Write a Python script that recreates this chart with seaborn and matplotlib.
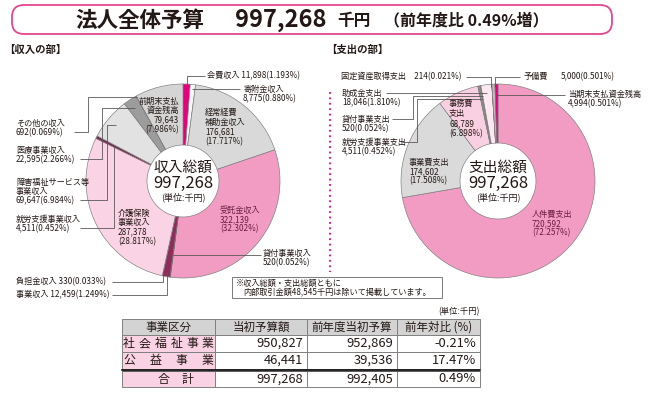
import numpy as np
import pandas as pd
import seaborn as sns
import matplotlib.pyplot as plt
from matplotlib.patches import FancyBboxPatch, Rectangle

sns.set_theme(style='white')
plt.rcParams['font.family'] = ['Noto Sans CJK JP', 'DejaVu Sans']

W, H = 650, 395

# 収入の部 (clockwise from 12 o'clock)
inc_names = ['会費収入', '寄附金収入', '経常経費補助金収入', '受託金収入', '貸付事業収入',
             '事業収入', '負担金収入', '介護保険事業収入', '就労支援事業収入',
             '障害福祉サービス等事業収入', '医療事業収入', 'その他の収入', '前期末支払資金残高']
inc_values = [11898, 8775, 176681, 322139, 520, 12459, 330, 287378, 4511, 69647, 22595, 692, 79643]
inc_pcts = [1.193, 0.880, 17.717, 32.302, 0.052, 1.249, 0.033, 28.817, 0.452, 6.984, 2.266, 0.069, 7.986]
inc_colors = ['#e4007f', '#f6f6f6', '#d9d9d9', '#f29cc3', '#d9739f', '#8e2d5b', '#8e2d5b',
              '#fad4e4', '#7b2a50', '#e2e2e2', '#9c9c9c', '#e2e2e2', '#d5d5d5']

# 支出の部 (clockwise from 12 o'clock)
exp_names = ['人件費支出', '事業費支出', '事務費支出', '就労支援事業支出', '貸付事業支出',
             '助成金支出', '固定資産取得支出', '予備費', '当期末支払資金残高']
exp_values = [720592, 174602, 68789, 4511, 520, 18046, 214, 5000, 4994]
exp_pcts = [72.257, 17.508, 6.898, 0.452, 0.052, 1.810, 0.021, 0.501, 0.501]
exp_colors = ['#f29cc3', '#dadada', '#f9d0e1', '#8c8c8c', '#8c8c8c', '#fde7f0', '#777777',
              '#bdbdbd', '#e4007f']

total = 997268
internal = 48545

# 事業区分別の表
tbl_header = ['事業区分', '当初予算額', '前年度当初予算', '前年対比 (%)']
tbl_rows = ['社会福祉事業', '公益事業', '合計']
budget_now = [950827, 46441, 997268]
budget_prev = [952869, 39536, 992405]
ratio = [-0.21, 17.47, 0.49]

TXT = '#231815'
LINE = '#595757'

fig = plt.figure(figsize=(6.5, 3.95), dpi=100)
ax = fig.add_axes([0, 0, 1, 1])


def txt(x, y, s, **kw):
    kw.setdefault('color', TXT)
    kw.setdefault('fontsize', 5.9)
    kw.setdefault('va', 'center')
    ax.text(x, H - y, s, **kw)


def lines(x, y, rows, step=9.5, **kw):
    for k, s in enumerate(rows):
        txt(x, y + k * step, s, **kw)


def path(pts):
    xs = [p[0] for p in pts]
    ys = [H - p[1] for p in pts]
    ax.plot(xs, ys, color=LINE, lw=0.6, solid_capstyle='butt')


def anchor(w, frac, cx, cy, r):
    a = np.deg2rad((w.theta1 + w.theta2) / 2)
    return cx + frac * r * np.cos(a), cy - frac * r * np.sin(a)


def ray_x(w, y, cx, cy):
    a = np.deg2rad((w.theta1 + w.theta2) / 2)
    t = (cy - y) / np.sin(a)
    return cx + t * np.cos(a)


def lab(v, p):
    return f'{v:,}({p:.3f}%)'


# ---- pies ----
R = 97
lcx, lcy = 183, 181
rcx, rcy = 498, 181
wp = dict(edgecolor='#7a7a7a', linewidth=0.45)
lw_, _ = ax.pie(inc_values, colors=inc_colors, startangle=90, counterclock=False,
                radius=R, center=(lcx, H - lcy), wedgeprops=dict(width=R - 36, **wp))
rw_, _ = ax.pie(exp_values, colors=exp_colors, startangle=90, counterclock=False,
                radius=R, center=(rcx, H - rcy), wedgeprops=dict(width=R - 38, **wp))
ax.set_xlim(0, W)
ax.set_ylim(0, H)
ax.axis('off')

L = {n: w for n, w in zip(inc_names, lw_)}
Rw = {n: w for n, w in zip(exp_names, rw_)}
iv = dict(zip(inc_names, zip(inc_values, inc_pcts)))
ev = dict(zip(exp_names, zip(exp_values, exp_pcts)))

# centers
for cx, head in [(lcx, '収入総額'), (rcx, '支出総額')]:
    txt(cx, 168, head, fontsize=10.6, ha='center')
    txt(cx, 183, f'{total:,}', fontsize=12, ha='center')
    txt(cx, 197, '(単位:千円)', fontsize=6.5, ha='center')

# ---- left labels ----
ax_, ay_ = anchor(L['会費収入'], 0.98, lcx, lcy, R)
path([(205, 76), (ax_, 76), (ax_, ay_)])
txt(207, 76, '会費収入 ' + lab(*iv['会費収入']))

ax_, ay_ = anchor(L['寄附金収入'], 0.95, lcx, lcy, R)
path([(240, 89), (ax_, 89), (ax_, ay_)])
lines(243, 89, ['寄附金収入', lab(*iv['寄附金収入'])], step=10)

v, p = iv['経常経費補助金収入']
lines(205, 113, ['経常経費', '補助金収入', f'{v:,}', f'({p:.3f}%)'])
v, p = iv['前期末支払資金残高']
lines(179, 101, ['前期末支払', '資金残高', f'{v:,}', f'({p:.3f}%)'], ha='right')
v, p = iv['受託金収入']
lines(220, 210, ['受託金収入', f'{v:,}', f'({p:.3f}%)'], color='#6b1d43')
v, p = iv['介護保険事業収入']
lines(118, 213, ['介護保険', '事業収入', f'{v:,}', f'({p:.3f}%)'])

x_ = ray_x(L['貸付事業収入'], 255, lcx, lcy)
path([(261, 255), (x_, 255)])
lines(263, 253, ['貸付事業収入', lab(*iv['貸付事業収入'])], step=10)

ax_, ay_ = anchor(L['その他の収入'], 0.99, lcx, lcy, R)
path([(74, 132), (88, 132), (88, ay_), (ax_, ay_)])
lines(16, 123, ['その他の収入', lab(*iv['その他の収入'])])

ax_, ay_ = anchor(L['医療事業収入'], 0.9, lcx, lcy, R)
path([(80, 159), (102, 159), (102, ay_), (ax_, ay_)])
lines(16, 150, ['医療事業収入', lab(*iv['医療事業収入'])])

ax_, ay_ = anchor(L['障害福祉サービス等事業収入'], 0.9, lcx, lcy, R)
path([(80, 200), (107, 200), (107, ay_), (ax_, ay_)])
lines(16, 182, ['障害福祉サービス等', '事業収入', lab(*iv['障害福祉サービス等事業収入'])])

ax_, ay_ = anchor(L['就労支援事業収入'], 0.8, lcx, lcy, R)
path([(80, 228), (ax_, 228), (ax_, ay_)])
lines(16, 219, ['就労支援事業収入', lab(*iv['就労支援事業収入'])])

ax_, ay_ = anchor(L['負担金収入'], 0.95, lcx, lcy, R)
path([(112, 282), (ax_, 282), (ax_, ay_)])
txt(16, 282, '負担金収入 ' + lab(*iv['負担金収入']))

ax_, ay_ = anchor(L['事業収入'], 0.95, lcx, lcy, R)
path([(112, 295), (ax_, 295), (ax_, ay_)])
txt(16, 295, '事業収入 ' + lab(*iv['事業収入']))

# ---- right labels ----
ax_, ay_ = anchor(Rw['固定資産取得支出'], 0.97, rcx, rcy, R)
path([(466, 77), (ax_ - 1, 77), (ax_ - 1, ay_)])
v, p = ev['固定資産取得支出']
txt(341, 77, f'固定資産取得支出　{v}({p:.3f}%)')

ax_, ay_ = anchor(Rw['予備費'], 0.97, rcx, rcy, R)
path([(520, 77), (ax_ + 1, 77), (ax_ + 1, ay_)])
v, p = ev['予備費']
txt(524, 77, '予備費')
txt(561, 77, lab(v, p))

x_ = ray_x(Rw['当期末支払資金残高'], 95, rcx, rcy)
path([(565, 95), (x_, 95)])
lines(568, 94, ['当期末支払資金残高', lab(*ev['当期末支払資金残高'])], step=10)

x_ = ray_x(Rw['助成金支出'], 93, rcx, rcy)
path([(386, 93), (x_, 93)])
lines(342, 93, ['助成金支出', lab(*ev['助成金支出'])], step=10)

x_ = ray_x(Rw['貸付事業支出'], 96, rcx, rcy)
path([(392, 119), (413, 119), (413, 96), (x_, 96)])
lines(342, 119, ['貸付事業支出', lab(*ev['貸付事業支出'])], step=9.5)

x_ = ray_x(Rw['就労支援事業支出'], 99, rcx, rcy)
path([(402, 142), (417, 142), (417, 99), (x_, 99)])
lines(342, 142, ['就労支援事業支出', lab(*ev['就労支援事業支出'])], step=9.5)

v, p = ev['事務費支出']
lines(449, 103, ['事務費', '支出', f'{v:,}', f'({p:.3f}%)'], step=10.3)
v, p = ev['事業費支出']
lines(409, 162, ['事業費支出', f'{v:,}', f'({p:.3f}%)'])
v, p = ev['人件費支出']
lines(532, 214, ['人件費支出', f'{v:,}', f'({p:.3f}%)'], color='#6b1d43')

# ---- title ----
box = FancyBboxPatch((12, H - 34), 600, 29, boxstyle='round,pad=0,rounding_size=12',
                     edgecolor='#e6468f', facecolor='white', lw=1.3)
ax.add_patch(box)
txt(75, 20, '法人全体予算', fontsize=15.5, fontweight='bold')
txt(235, 20, f'{total:,}', fontsize=17, fontweight='bold')
txt(337, 21, '千円', fontsize=12, fontweight='bold')
txt(384, 20, '（前年度比 0.49%増）', fontsize=11.5, fontweight='bold')

txt(4, 50, '【収入の部】', fontsize=7.5, fontweight='bold')
txt(326, 50, '【支出の部】', fontsize=7.5, fontweight='bold')

ax.plot([330, 330], [H - 92, H - 272], color='#e4007f', lw=1.3, ls=(0, (1, 2)))

# note box
ax.add_patch(Rectangle((232, H - 298), 210, 21, fill=False, edgecolor='#7a7a7a', lw=0.7))
txt(236, 283, '※収入総額・支出総額ともに', fontsize=5.9)
txt(243, 292, f'内部取引金額{internal:,}千円は除いて掲載しています。', fontsize=5.9)

# ---- table ----
txt(480, 312, '(単位:千円)', fontsize=6, ha='right')
cols = [122, 215, 307, 397, 480]
rows_y = [(319, 335), (335, 352), (352, 369), (371, 387)]
for r, (y0, y1) in enumerate(rows_y):
    for c in range(4):
        if r == 0:
            fc = '#d3d3d3'
        elif c == 0:
            fc = '#f9d3e3'
        else:
            fc = 'white'
        ax.add_patch(Rectangle((cols[c], H - y1), cols[c + 1] - cols[c], y1 - y0,
                               facecolor=fc, edgecolor='#808080', lw=0.7))
ax.plot([cols[0], cols[-1]], [H - 369.5, H - 369.5], color='#222', lw=1.4)
ax.plot([cols[0], cols[-1]], [H - 371.2, H - 371.2], color='#555', lw=0.6)

for c, s in enumerate(tbl_header):
    txt((cols[c] + cols[c + 1]) / 2, 327, s, fontsize=8.3, ha='center')

spreads = [(129, 208), (129, 208), (163, 187)]
for r, name in enumerate(tbl_rows):
    y0, y1 = rows_y[r + 1]
    yc = (y0 + y1) / 2
    xs = np.linspace(spreads[r][0], spreads[r][1], len(name))
    for ch, xx in zip(name, xs):
        txt(xx, yc, ch, fontsize=8.6, ha='center')
    txt(cols[2] - 4, yc, f'{budget_now[r]:,}', fontsize=9.3, ha='right')
    txt(cols[3] - 4, yc, f'{budget_prev[r]:,}', fontsize=9.3, ha='right')
    txt(cols[4] - 4, yc, f'{ratio[r]:.2f}%', fontsize=9.3, ha='right')

fig.savefig('out.png', dpi=100)
